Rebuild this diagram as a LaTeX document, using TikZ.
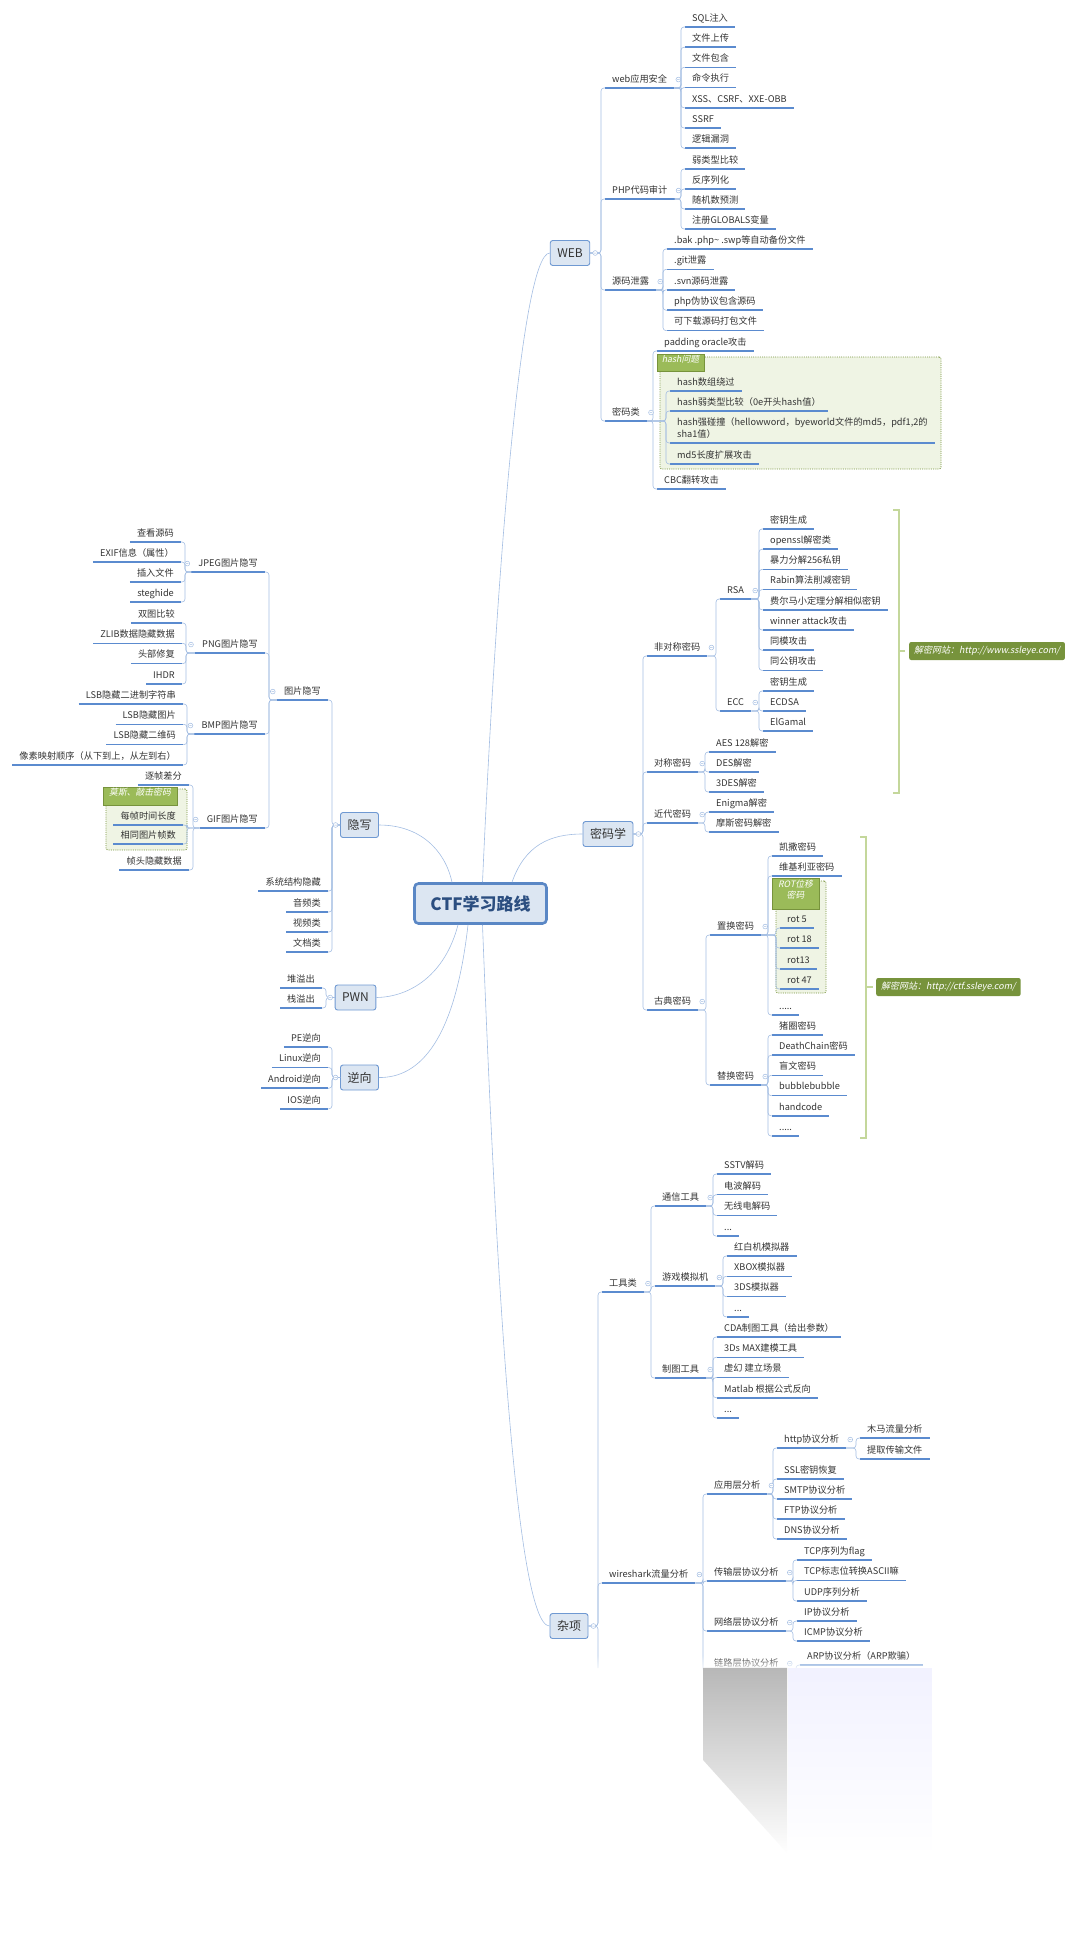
\documentclass[tikz,border=0pt]{standalone}
\usepackage{fontspec}
\setmainfont{Noto Sans CJK SC}
\newfontfamily\tagfont{Noto Sans CJK SC}[FakeSlant=0.2]
\usepackage{xcolor}
\usepackage{tikz}
\usetikzlibrary{positioning,fit,fadings}

\definecolor{txt}{HTML}{333333}
\definecolor{ulc}{HTML}{5B8BCF}
\definecolor{linec}{HTML}{A3BDE2}
\definecolor{boxfill}{HTML}{DCE6F2}
\definecolor{boxline}{HTML}{6F99D2}
\definecolor{rootline}{HTML}{5A87C5}
\definecolor{roottxt}{HTML}{2B4E80}
\definecolor{grpfill}{HTML}{EFF4E4}
\definecolor{grpline}{HTML}{77933C}
\definecolor{tagfill}{HTML}{9BBB59}
\definecolor{sitefill}{HTML}{77933C}
\definecolor{bracec}{HTML}{C4D79B}

\begin{document}
\begin{tikzpicture}[
  x=1pt, y=-1pt,
  leaf/.style={inner xsep=7pt, inner ysep=2.5pt, text height=8.5pt, text depth=3pt, text=txt,
    font=\fontsize{9.2}{12}\selectfont,
    append after command={(\tikzlastnode.south west) edge[uline] (\tikzlastnode.south east)}},
  rleaf/.style={leaf, anchor=south west},
  lleaf/.style={leaf, anchor=south east},
  uline/.style={draw=ulc, line width=1.5pt},
  conn/.style={draw=linec, line width=0.6pt, rounded corners=3pt},
  main/.style={draw=linec, line width=0.6pt},
  topic/.style={draw=boxline, fill=boxfill, line width=0.9pt, rounded corners=2.5pt, minimum height=25pt, inner xsep=7pt, text=txt, font=\fontsize{12}{14}\selectfont},
  rootbox/.style={draw=rootline, fill=boxfill, line width=2.6pt, rounded corners=4pt, minimum width=132pt, minimum height=40pt, text=roottxt, font=\bfseries\fontsize{17}{20}\selectfont},
  grp/.style={draw=grpline, dash pattern=on 1pt off 1.2pt, line width=0.8pt, fill=grpfill, rounded corners=2pt, inner sep=0pt},
  tagbox/.style={draw=grpline, line width=1pt, fill=tagfill, text=white, inner sep=0pt, font=\tagfont\fontsize{8.8}{10.5}\selectfont},
  site/.style={fill=sitefill, text=white, rounded corners=2pt, inner xsep=5pt, minimum height=18pt, anchor=west, font=\tagfont\fontsize{9}{11}\selectfont},
  sumline/.style={draw=bracec, line width=2.4pt},
  mk/.style={draw=linec, fill=white, line width=0.5pt}
]
\useasboundingbox (0,0) rectangle (1080,1957);

% groups behind the leaves
\node[grp, fit={(660,357) (941,469)}] (hashgrp) {};
\node[grp, fit={(776,881) (826,993)}] (rotgrp) {};
\node[grp, fit={(106,789) (187,850)}] (gifgrp) {};

% centre and main topics
\node[rootbox] (root) at (480.5,903.5) {CTF学习路线};
\node[topic] (web) at (570,253) {WEB};
\node[topic] (crypto) at (608,834) {密码学};
\node[topic] (misc) at (569,1626) {杂项};
\node[topic] (stego) at (359.5,825) {隐写};
\node[topic] (pwn) at (355.5,997.5) {PWN};
\node[topic] (rev) at (359.5,1077.5) {逆向};

\draw[main] ([xshift=2pt]root.north) .. controls (495,600) and (520,253) .. (web.west);
\draw[main] ([xshift=31.5pt]root.north) .. controls (525,845) and (550,834) .. (crypto.west);
\draw[main] ([xshift=-28.5pt]root.north) .. controls (445,850) and (420,825) .. (stego.east);
\draw[main] ([xshift=-22.5pt]root.south) .. controls (445,975) and (410,997) .. (pwn.east);
\draw[main] ([xshift=-12.5pt]root.south) .. controls (455,1040) and (420,1078) .. (rev.east);
\draw[main] ([xshift=2pt]root.south) .. controls (495,1250) and (515,1626) .. (misc.west);

% WEB
\node[rleaf] (webapp) at (605,88) {web应用安全};
\node[rleaf] (php) at (605,199) {PHP代码审计};
\node[rleaf] (leak) at (605,290) {源码泄露};
\node[rleaf] (webcrypt) at (605,421) {密码类};
\foreach \c in {webapp,php,leak,webcrypt}
  \draw[conn] (web.east) -| ([xshift=-4pt]\c.south west) -- (\c.south west);

\foreach \t [count=\i] in {SQL注入,文件上传,文件包含,命令执行,XSS、CSRF、XXE-OBB,SSRF,逻辑漏洞}{
  \node[rleaf] (wa\i) at (685,{27+20.2*(\i-1)}) {\t};
  \draw[conn] (webapp.south east) -| ([xshift=-4pt]wa\i.south west) -- (wa\i.south west);
}
\foreach \t [count=\i] in {弱类型比较,反序列化,随机数预测,注册GLOBALS变量}{
  \node[rleaf] (ph\i) at (685,{169+20*(\i-1)}) {\t};
  \draw[conn] (php.south east) -| ([xshift=-4pt]ph\i.south west) -- (ph\i.south west);
}
\foreach \t [count=\i] in {.bak .php\textasciitilde{} .swp等自动备份文件,.git泄露,.svn源码泄露,php伪协议包含源码,可下载源码打包文件}{
  \node[rleaf] (lk\i) at (667,{249+20.4*(\i-1)}) {\t};
  \draw[conn] (leak.south east) -| ([xshift=-4pt]lk\i.south west) -- (lk\i.south west);
}
\node[rleaf] (padding) at (657,351) {padding oracle攻击};
\node[tagbox, fit={(657,354) (704,371)}] (hashtag) {hash问题};
\node[rleaf] (hash1) at (670,391) {hash数组绕过};
\node[rleaf] (hash2) at (670,411) {hash弱类型比较（0e开头hash值）};
\node[rleaf] (hash3) at (670,443) {\begin{tabular}[b]{@{}l@{}}hash强碰撞（hellowword，byeworld文件的md5，pdf1,2的\\sha1值）\end{tabular}};
\node[rleaf] (hash4) at (670,464) {md5长度扩展攻击};
\node[rleaf] (cbc) at (657,489) {CBC翻转攻击};
\foreach \c in {padding,hash1,hash2,hash3,hash4,cbc}
  \draw[conn] (webcrypt.south east) -| ([xshift=-4pt]\c.south west) -- (\c.south west);

% 密码学
\node[rleaf] (asym) at (647,656) {非对称密码};
\node[rleaf] (sym) at (647,772) {对称密码};
\node[rleaf] (modern) at (647,823) {近代密码};
\node[rleaf] (classic) at (647,1010) {古典密码};
\foreach \c in {asym,sym,modern,classic}
  \draw[conn] (crypto.east) -| ([xshift=-4pt]\c.south west) -- (\c.south west);

\node[rleaf] (rsa) at (720,599) {RSA};
\node[rleaf] (ecc) at (720,711) {ECC};
\foreach \c in {rsa,ecc}
  \draw[conn] (asym.south east) -| ([xshift=-4pt]\c.south west) -- (\c.south west);
\foreach \t [count=\i] in {密钥生成,openssl解密类,暴力分解256私钥,Rabin算法削减密钥,费尔马小定理分解相似密钥,winner attack攻击,同模攻击,同公钥攻击}{
  \node[rleaf] (rs\i) at (763,{529+20.2*(\i-1)}) {\t};
  \draw[conn] (rsa.south east) -| ([xshift=-4pt]rs\i.south west) -- (rs\i.south west);
}
\foreach \t [count=\i] in {密钥生成,ECDSA,ElGamal}{
  \node[rleaf] (ec\i) at (763,{691+20*(\i-1)}) {\t};
  \draw[conn] (ecc.south east) -| ([xshift=-4pt]ec\i.south west) -- (ec\i.south west);
}
\foreach \t [count=\i] in {AES 128解密,DES解密,3DES解密}{
  \node[rleaf] (sy\i) at (709,{752+20*(\i-1)}) {\t};
  \draw[conn] (sym.south east) -| ([xshift=-4pt]sy\i.south west) -- (sy\i.south west);
}
\foreach \t [count=\i] in {Enigma解密,摩斯密码解密}{
  \node[rleaf] (md\i) at (709,{812+20*(\i-1)}) {\t};
  \draw[conn] (modern.south east) -| ([xshift=-4pt]md\i.south west) -- (md\i.south west);
}
\node[rleaf] (perm) at (710,935) {置换密码};
\node[rleaf] (subst) at (710,1085) {替换密码};
\foreach \c in {perm,subst}
  \draw[conn] (classic.south east) -| ([xshift=-4pt]\c.south west) -- (\c.south west);

\node[rleaf] (caesar) at (772,856) {凯撒密码};
\node[rleaf] (vigenere) at (772,876) {维基利亚密码};
\node[tagbox, align=left, fit={(772,878) (819,909)}] (rottag) {ROT位移\\密码};
\node[rleaf] (rot1) at (780,928) {rot 5};
\node[rleaf] (rot2) at (780,948) {rot 18};
\node[rleaf] (rot3) at (780,969) {rot13};
\node[rleaf] (rot4) at (780,989) {rot 47};
\node[rleaf] (permmore) at (772,1015) {.{}.{}.{}.{}.};
\foreach \c in {caesar,vigenere,rot1,rot2,rot3,rot4,permmore}
  \draw[conn] (perm.south east) -| ([xshift=-4pt]\c.south west) -- (\c.south west);
\foreach \t [count=\i] in {猪圈密码,DeathChain密码,盲文密码,bubblebubble,handcode,.{}.{}.{}.{}.}{
  \node[rleaf] (sb\i) at (772,{1035+20.2*(\i-1)}) {\t};
  \draw[conn] (subst.south east) -| ([xshift=-4pt]sb\i.south west) -- (sb\i.south west);
}

% summaries
\node[site] (site1) at (909,651) {解密网站：http://www.ssleye.com/};
\node[site] (site2) at (876,987) {解密网站：http://ctf.ssleye.com/};
\draw[sumline] (893,510) -- (899,510) -- (899,793) -- (893,793);
\draw[sumline] (899,651) -- ([xshift=-4pt]site1.west);
\draw[sumline] (860,837) -- (866,837) -- (866,1138) -- (860,1138);
\draw[sumline] (866,987) -- ([xshift=-3pt]site2.west);

% 杂项
\node[rleaf] (tools) at (602,1292) {工具类};
\node[rleaf] (wire) at (602,1583) {wireshark流量分析};
\coordinate (misctail) at (598,1668);
\foreach \c in {tools,wire}
  \draw[conn] (misc.east) -| ([xshift=-4pt]\c.south west) -- (\c.south west);
\draw[conn] (misc.east) -| (misctail);

\node[rleaf] (comm) at (655,1206) {通信工具};
\node[rleaf] (game) at (655,1286) {游戏模拟机};
\node[rleaf] (carto) at (655,1378) {制图工具};
\foreach \c in {comm,game,carto}
  \draw[conn] (tools.south east) -| ([xshift=-4pt]\c.south west) -- (\c.south west);
\foreach \t [count=\i] in {SSTV解码,电波解码,无线电解码,.{}.{}.}{
  \node[rleaf] (cm\i) at (717,{1174+20.7*(\i-1)}) {\t};
  \draw[conn] (comm.south east) -| ([xshift=-4pt]cm\i.south west) -- (cm\i.south west);
}
\foreach \t [count=\i] in {红白机模拟器,XBOX模拟器,3DS模拟器,.{}.{}.}{
  \node[rleaf] (gm\i) at (727,{1256+20.3*(\i-1)}) {\t};
  \draw[conn] (game.south east) -| ([xshift=-4pt]gm\i.south west) -- (gm\i.south west);
}
\foreach \t [count=\i] in {CDA制图工具（给出参数）,3Ds MAX建模工具,虚幻 建立场景,Matlab 根据公式反向,.{}.{}.}{
  \node[rleaf] (ct\i) at (717,{1337+20.25*(\i-1)}) {\t};
  \draw[conn] (carto.south east) -| ([xshift=-4pt]ct\i.south west) -- (ct\i.south west);
}

\node[rleaf] (app) at (707,1494) {应用层分析};
\node[rleaf] (trans) at (707,1581) {传输层协议分析};
\node[rleaf] (net) at (707,1631) {网络层协议分析};
\node[rleaf] (link) at (707,1672) {链路层协议分析};
\foreach \c in {app,trans,net,link}
  \draw[conn] (wire.south east) -| ([xshift=-4pt]\c.south west) -- (\c.south west);

\node[rleaf] (http) at (777,1448) {http协议分析};
\foreach \t [count=\i] in {SSL密钥恢复,SMTP协议分析,FTP协议分析,DNS协议分析}{
  \node[rleaf] (ap\i) at (777,{1479+20*(\i-1)}) {\t};
  \draw[conn] (app.south east) -| ([xshift=-4pt]ap\i.south west) -- (ap\i.south west);
}
\draw[conn] (app.south east) -| ([xshift=-4pt]http.south west) -- (http.south west);
\node[rleaf] (trojan) at (860,1438) {木马流量分析};
\node[rleaf] (extract) at (860,1459) {提取传输文件};
\foreach \c in {trojan,extract}
  \draw[conn] (http.south east) -| ([xshift=-4pt]\c.south west) -- (\c.south west);
\foreach \t [count=\i] in {TCP序列为flag,TCP标志位转换ASCII嘛,UDP序列分析}{
  \node[rleaf] (tr\i) at (797,{1560+20.5*(\i-1)}) {\t};
  \draw[conn] (trans.south east) -| ([xshift=-4pt]tr\i.south west) -- (tr\i.south west);
}
\foreach \t [count=\i] in {IP协议分析,ICMP协议分析}{
  \node[rleaf] (nt\i) at (797,{1621+20*(\i-1)}) {\t};
  \draw[conn] (net.south east) -| ([xshift=-4pt]nt\i.south west) -- (nt\i.south west);
}
\node[rleaf] (arp) at (800,1665) {ARP协议分析（ARP欺骗）};
\draw[conn] (link.south east) -| ([xshift=-4pt]arp.south west) -- (arp.south west);

% 隐写
\node[lleaf] (img) at (328,700) {图片隐写};
\node[lleaf] (sysh) at (328,891) {系统结构隐藏};
\node[lleaf] (audio) at (328,912) {音频类};
\node[lleaf] (video) at (328,932) {视频类};
\node[lleaf] (docs) at (328,952) {文档类};
\foreach \c in {img,sysh,audio,video,docs}
  \draw[conn] (stego.west) -| ([xshift=4pt]\c.south east) -- (\c.south east);

\node[lleaf] (jpeg) at (265,572) {JPEG图片隐写};
\node[lleaf] (png) at (265,653) {PNG图片隐写};
\node[lleaf] (bmp) at (265,734) {BMP图片隐写};
\node[lleaf] (gif) at (265,828) {GIF图片隐写};
\foreach \c in {jpeg,png,bmp,gif}
  \draw[conn] (img.south west) -| ([xshift=4pt]\c.south east) -- (\c.south east);
\foreach \t [count=\i] in {查看源码,EXIF信息（属性）,插入文件,steghide}{
  \node[lleaf] (jp\i) at (181,{542+20*(\i-1)}) {\t};
  \draw[conn] (jpeg.south west) -| ([xshift=4pt]jp\i.south east) -- (jp\i.south east);
}
\foreach \t [count=\i] in {双图比较,ZLIB数据隐藏数据,头部修复,IHDR}{
  \node[lleaf] (pn\i) at (182,{623+20.3*(\i-1)}) {\t};
  \draw[conn] (png.south west) -| ([xshift=4pt]pn\i.south east) -- (pn\i.south east);
}
\foreach \t [count=\i] in {LSB隐藏二进制字符串,LSB隐藏图片,LSB隐藏二维码,像素映射顺序（从下到上，从左到右）}{
  \node[lleaf] (bm\i) at (183,{704+20.3*(\i-1)}) {\t};
  \draw[conn] (bmp.south west) -| ([xshift=4pt]bm\i.south east) -- (bm\i.south east);
}
\node[tagbox, fit={(103,787) (177,805)}] (giftag) {莫斯、敲击密码};
\node[lleaf] (gf1) at (189,785) {逐帧差分};
\node[lleaf] (gf2) at (183,825) {每帧时间长度};
\node[lleaf] (gf3) at (183,844) {相同图片帧数};
\node[lleaf] (gf4) at (189,870) {帧头隐藏数据};
\foreach \c in {gf1,gf2,gf3,gf4}
  \draw[conn] (gif.south west) -| ([xshift=4pt]\c.south east) -- (\c.south east);

% PWN, 逆向
\node[lleaf] (heap) at (322,988) {堆溢出};
\node[lleaf] (stack) at (322,1008) {栈溢出};
\foreach \c in {heap,stack}
  \draw[conn] (pwn.west) -| ([xshift=4pt]\c.south east) -- (\c.south east);
\foreach \t [count=\i] in {PE逆向,Linux逆向,Android逆向,IOS逆向}{
  \node[lleaf] (rv\i) at (328,{1047+20.6*(\i-1)}) {\t};
  \draw[conn] (rev.west) -| ([xshift=4pt]rv\i.south east) -- (rv\i.south east);
}

% fold markers
\foreach \n in {webapp,php,leak,webcrypt,asym,sym,modern,classic,rsa,ecc,perm,subst,tools,comm,game,carto,wire,app,trans,net,link,http}
  \draw[mk] ([xshift=4pt]\n.east) circle (2.4pt) +(-1.2pt,0) -- +(1.2pt,0);
\foreach \n in {img,jpeg,png,bmp,gif}
  \draw[mk] ([xshift=-4pt]\n.west) circle (2.4pt) +(-1.2pt,0) -- +(1.2pt,0);
\foreach \n in {web,crypto,misc}
  \draw[mk] ([xshift=5pt]\n.east) circle (2.4pt) +(-1.2pt,0) -- +(1.2pt,0);
\foreach \n in {stego,pwn,rev}
  \draw[mk] ([xshift=-4.5pt]\n.west) circle (2.4pt) +(-1.2pt,0) -- +(1.2pt,0);

% faded bottom
\fill[white, path fading=north] (560,1655) rectangle (1000,1673);
\fill[white] (560,1673) rectangle (1000,1957);
\fill[black!28, path fading=south] (703,1668) -- (787,1668) -- (787,1853) -- (703,1760) -- cycle;
\fill[blue!5, path fading=south] (788,1668) rectangle (932,1850);
\end{tikzpicture}
\end{document}
